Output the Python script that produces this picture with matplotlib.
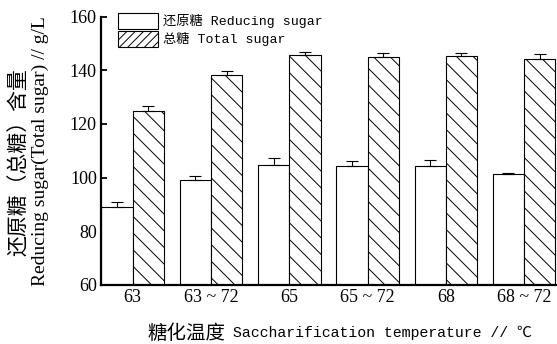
import matplotlib
matplotlib.use("Agg")
import matplotlib.pyplot as plt
from matplotlib.patches import Patch
import numpy as np

# Saccharification temperature groups and measured sugar contents (g/L)
categories = ["63", "63 ~ 72", "65", "65 ~ 72", "68", "68 ~ 72"]
reducing_sugar = [89.0, 99.1, 104.7, 104.3, 104.3, 101.2]
reducing_err = [1.9, 1.3, 2.4, 1.9, 2.4, 0.6]
total_sugar = [124.7, 138.2, 145.7, 145.1, 145.4, 144.4]
total_err = [2.0, 1.4, 1.1, 1.5, 1.0, 1.5]
y_ticks = [60, 80, 100, 120, 140, 160]

serif = ["Liberation Serif", "Noto Sans CJK SC"]
mono = ["Liberation Mono", "Noto Sans CJK SC"]

plt.rcParams["hatch.linewidth"] = 0.7
plt.rcParams["hatch.color"] = "black"

W, H = 557, 344
fig = plt.figure(figsize=(W / 100, H / 100), dpi=100)
ax = fig.add_axes([101 / W, 1 - 284.7 / H, (W - 101) / W, (284.7 - 16.7) / H])

x = np.arange(len(categories))
width = 0.40

ax.bar(x - width / 2, reducing_sugar, width, color="white", edgecolor="black",
       linewidth=0.8, zorder=2)
ax.bar(x + width / 2, total_sugar, width, color="white", edgecolor="black",
       linewidth=0.8, hatch="\\\\", zorder=2)

# upper error bars only
zeros = [0] * len(categories)
ax.errorbar(x - width / 2, reducing_sugar, yerr=[zeros, reducing_err], fmt="none",
            ecolor="black", elinewidth=0.8, capsize=4, capthick=0.8, zorder=3)
ax.errorbar(x + width / 2, total_sugar, yerr=[zeros, total_err], fmt="none",
            ecolor="black", elinewidth=0.8, capsize=4, capthick=0.8, zorder=3)

ax.set_xlim(-0.405, 5.42)
ax.set_ylim(60, 160)
ax.set_yticks(y_ticks)
ax.set_xticks(x)
ax.set_xticklabels(categories, family=serif, fontsize=13)
ax.set_yticklabels([str(v) for v in y_ticks], family=serif, fontsize=13)
ax.tick_params(axis="y", direction="in", length=4.5, width=1.3, pad=3)
ax.tick_params(axis="x", length=0, pad=3)

for side in ("top", "right"):
    ax.spines[side].set_visible(False)
for side in ("left", "bottom"):
    ax.spines[side].set_linewidth(1.6)

# legend swatches: the total sugar key uses forward hatching
handles = [
    Patch(facecolor="white", edgecolor="black", linewidth=0.8),
    Patch(facecolor="white", edgecolor="black", linewidth=0.8, hatch="////"),
]
labels = ["还原糖 Reducing sugar", "总糖 Total sugar"]
ax.legend(handles, labels, loc="upper left", bbox_to_anchor=(118 / W, 1 - 13 / H),
          bbox_transform=fig.transFigure, frameon=False, borderpad=0,
          borderaxespad=0, handlelength=3.0, handleheight=1.5,
          handletextpad=0.4, labelspacing=0.12,
          prop={"family": mono, "size": 9.5})

fig.text(19 / W, 1 - 162 / H, "还原糖（总糖）含量", rotation=90, ha="center",
         va="center", family="Noto Sans CJK SC", fontsize=15)
fig.text(40 / W, 1 - 151 / H, "Reducing sugar(Total sugar) // g/L", rotation=90,
         ha="center", va="center", family=serif, fontsize=14)
fig.text(147 / W, 1 - 333 / H, "糖化温度", ha="left", va="center",
         family="Noto Sans CJK SC", fontsize=14)
fig.text(233 / W, 1 - 333 / H, "Saccharification temperature // ℃",
         ha="left", va="center", family=mono, fontsize=10.7)

fig.savefig("out.png", dpi=100)
